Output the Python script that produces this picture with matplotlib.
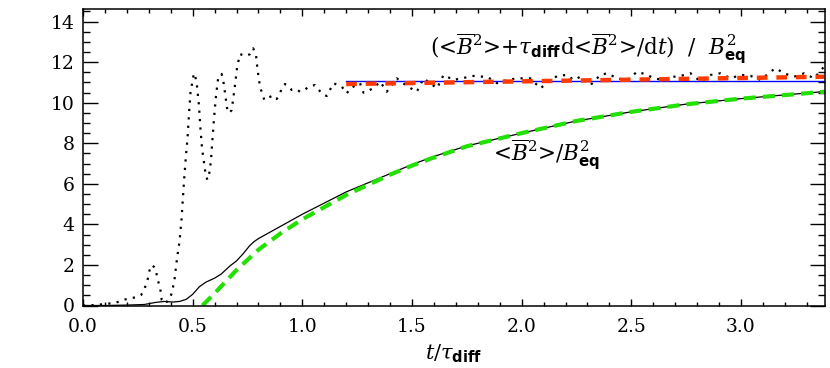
import matplotlib
matplotlib.use("Agg")
import matplotlib.pyplot as plt
from matplotlib.ticker import MultipleLocator

plt.rcParams['font.family'] = ['DejaVu Serif']
plt.rcParams['mathtext.fontset'] = 'custom'
plt.rcParams['mathtext.rm'] = 'DejaVu Serif'
plt.rcParams['mathtext.it'] = 'DejaVu Serif:italic'
plt.rcParams['mathtext.bf'] = 'DejaVu Sans:bold'

# dotted: (<B^2> + tau d<B^2>/dt)/Beq^2
t_dot = [0.0, 0.05, 0.098, 0.151, 0.181, 0.212, 0.239, 0.265, 0.28, 0.296, 0.303, 0.315,
         0.33, 0.341, 0.352, 0.359, 0.375, 0.397, 0.406, 0.417, 0.425, 0.432, 0.44, 0.449,
         0.455, 0.461, 0.469, 0.477, 0.484, 0.49, 0.5, 0.506, 0.511, 0.519, 0.528, 0.536,
         0.543, 0.551, 0.559, 0.567, 0.575, 0.583, 0.591, 0.598, 0.606, 0.616, 0.632, 0.642,
         0.652, 0.659, 0.668, 0.678, 0.685, 0.693, 0.703, 0.716, 0.738, 0.761, 0.776, 0.789,
         0.796, 0.807, 0.819, 0.827, 0.845, 0.865, 0.883, 0.898, 0.909, 0.921, 0.936, 0.951,
         0.974, 0.989, 1.005, 1.035, 1.058, 1.088, 1.111, 1.142, 1.18, 1.203, 1.218, 1.263,
         1.279, 1.324, 1.355, 1.385, 1.431, 1.477, 1.522, 1.553, 1.614, 1.644, 1.689, 1.781,
         1.826, 1.842, 1.888, 1.933, 1.979, 2.04, 2.085, 2.116, 2.162, 2.207, 2.237, 2.268,
         2.314, 2.359, 2.39, 2.436, 2.481, 2.527, 2.573, 2.603, 2.648, 2.694, 2.725, 2.77,
         2.816, 2.862, 2.907, 2.953, 2.998, 3.044, 3.09, 3.135, 3.158, 3.196, 3.242, 3.288,
         3.333, 3.379]
y_dot = [0.0, 0.02, 0.07, 0.14, 0.27, 0.35, 0.4, 0.52, 0.8, 1.34, 1.72, 2.0,
         1.83, 1.26, 0.85, 0.27, 0.1, 0.35, 0.68, 1.26, 2.0, 2.57, 3.15, 4.22,
         5.2, 6.2, 7.34, 8.32, 9.56, 10.49, 11.12, 11.45, 11.37, 10.9, 9.94, 8.65,
         7.72, 7.09, 6.47, 6.2, 6.47, 7.09, 8.32, 9.31, 10.3, 11.2, 11.42, 10.92,
         10.13, 9.56, 9.5, 9.64, 10.22, 10.87, 11.78, 12.4, 12.3, 12.39, 12.68, 12.32,
         11.61, 10.79, 10.38, 10.13, 10.25, 10.35, 10.18, 10.46, 10.79, 10.92, 10.82, 10.63,
         10.66, 10.54, 10.6, 10.82, 10.87, 10.46, 10.33, 10.96, 10.79, 10.46, 10.71, 10.96,
         10.49, 10.71, 11.04, 10.54, 11.2, 10.82, 10.54, 11.2, 10.71, 11.37, 11.12, 11.32,
         11.28, 11.28, 10.96, 11.12, 11.2, 11.2, 10.71, 10.96, 11.32, 11.37, 11.12, 11.28,
         10.87, 11.37, 11.45, 11.2, 11.12, 11.53, 11.37, 11.2, 11.12, 11.28, 11.32, 11.45,
         11.04, 11.37, 11.45, 11.2, 11.37, 11.32, 11.12, 11.53, 11.7, 11.45, 11.28, 11.45,
         11.2, 11.78]

# solid: <B^2>/Beq^2
t_sol = [0.0, 0.1, 0.2, 0.28, 0.33, 0.37, 0.41, 0.44, 0.47, 0.5, 0.53, 0.56, 0.6, 0.63,
         0.67, 0.7, 0.73, 0.76, 0.78, 0.8, 0.85, 0.9, 0.95, 1.0, 1.1, 1.2, 1.3, 1.4, 1.5,
         1.6, 1.75, 2.0, 2.25, 2.5, 2.75, 3.0, 3.25, 3.38]
y_sol = [0.0, 0.0, 0.02, 0.05, 0.15, 0.2, 0.17, 0.2, 0.3, 0.55, 0.92, 1.15, 1.35, 1.55,
         1.95, 2.2, 2.55, 2.95, 3.15, 3.3, 3.6, 3.9, 4.2, 4.5, 5.05, 5.6, 6.05, 6.5, 6.95,
         7.35, 7.87, 8.5, 9.1, 9.55, 9.93, 10.2, 10.43, 10.55]

# green dashed: exponential fit
t_fit = [0.545, 0.6, 0.7, 0.8, 0.9, 1.0, 1.1, 1.2, 1.3, 1.4, 1.5, 1.6, 1.75, 2.0, 2.25,
         2.5, 2.75, 3.0, 3.25, 3.38]
y_fit = [0.0, 0.6, 1.75, 2.75, 3.55, 4.25, 4.85, 5.45, 5.95, 6.45, 6.9, 7.3, 7.85, 8.5,
         9.1, 9.55, 9.92, 10.2, 10.42, 10.54]

# blue: mean saturation level; red dashed: linear fit
t_lvl = [1.2, 3.38]
y_blue = [11.08, 11.08]
y_red = [10.92, 11.28]

fig = plt.figure(figsize=(8.3, 3.68), dpi=100)
ax = fig.add_axes([83 / 830, (368 - 305.5) / 368, 742 / 830, (305.5 - 9) / 368])

ax.plot(t_dot, y_dot, color='black', lw=1.6, linestyle=(0, (1, 2.8)))
ax.plot(t_sol, y_sol, color='black', lw=0.9)
ax.plot(t_fit, y_fit, color='#22e000', lw=3.0, linestyle=(0, (2.9, 1.7)))
ax.plot(t_lvl, y_blue, color='#0000ff', lw=1.0)
ax.plot(t_lvl, y_red, color='#ff3a00', lw=3.2, linestyle=(0, (2.4, 2.0)))

ax.set_xlim(0, 3.383)
ax.set_ylim(0, 14.62)

ax.xaxis.set_major_locator(MultipleLocator(0.5))
ax.xaxis.set_minor_locator(MultipleLocator(0.1))
ax.yaxis.set_major_locator(MultipleLocator(2))
ax.yaxis.set_minor_locator(MultipleLocator(0.5))
ax.xaxis.set_major_formatter(matplotlib.ticker.FormatStrFormatter('%.1f'))

ax.tick_params(axis='both', which='both', direction='in', top=True, right=True,
               labelsize=13.5, width=1.0)
ax.tick_params(axis='y', which='major', length=11, pad=6)
ax.tick_params(axis='y', which='minor', length=5)
ax.tick_params(axis='x', which='major', length=4.7, pad=9)
ax.tick_params(axis='x', which='minor', length=2.9)
for s in ax.spines.values():
    s.set_linewidth(1.1)

ax.set_xlabel(r'$t/\tau_{\mathbf{diff}}$', fontsize=15, labelpad=5)

ax.text(1.584, 12.65,
        r'(<$\overline{B}^2$>+$\tau_{\mathbf{diff}}$d<$\overline{B}^2$>/d$t$)  /  $B^2_{\mathbf{eq}}$',
        fontsize=15.5, ha='left', va='center')
ax.text(1.871, 7.45, r'<$\overline{B}^2$>/$B^2_{\mathbf{eq}}$',
        fontsize=15.5, ha='left', va='center')

fig.savefig('out.png', dpi=100)
